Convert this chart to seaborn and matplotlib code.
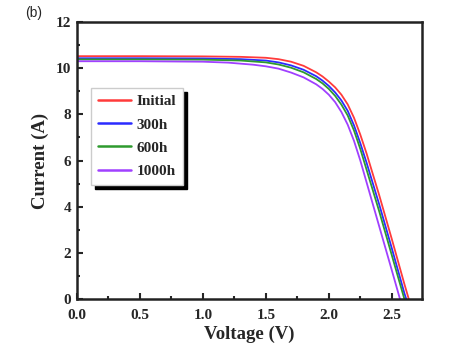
import numpy as np
import pandas as pd
import matplotlib
matplotlib.use('Agg')
import matplotlib.pyplot as plt
from matplotlib.ticker import MultipleLocator
import seaborn as sns

# I-V curves
labels = ['Initial', '300h', '600h', '1000h']
colors = ['#ff3b3b', '#2b2bff', '#2e9a2e', '#a040ff']

v_initial = [0, 0.5, 1.0, 1.3, 1.5, 1.6, 1.7, 1.8, 1.9, 1.95, 2.0, 2.05, 2.1, 2.15, 2.2, 2.25, 2.3, 2.4, 2.5, 2.6, 2.635]
i_initial = [10.52, 10.52, 10.51, 10.49, 10.45, 10.39, 10.28, 10.1, 9.82, 9.64, 9.42, 9.17, 8.85, 8.43, 7.85, 7.12, 6.3, 4.5, 2.6, 0.65, 0]

v_300h = [0, 0.5, 1.0, 1.3, 1.5, 1.6, 1.7, 1.8, 1.9, 1.95, 2.0, 2.05, 2.1, 2.15, 2.2, 2.25, 2.3, 2.4, 2.5, 2.6, 2.615]
i_300h = [10.43, 10.43, 10.42, 10.39, 10.33, 10.25, 10.12, 9.93, 9.65, 9.46, 9.23, 8.95, 8.6, 8.15, 7.52, 6.75, 5.9, 4.1, 2.2, 0.25, 0]

v_600h = [0, 0.5, 1.0, 1.3, 1.5, 1.6, 1.7, 1.8, 1.9, 1.95, 2.0, 2.05, 2.1, 2.15, 2.2, 2.25, 2.3, 2.4, 2.5, 2.6]
i_600h = [10.38, 10.38, 10.37, 10.33, 10.25, 10.16, 10.02, 9.82, 9.53, 9.34, 9.1, 8.8, 8.42, 7.95, 7.3, 6.5, 5.6, 3.8, 1.9, 0]

v_1000h = [0, 0.5, 1.0, 1.2, 1.4, 1.5, 1.6, 1.7, 1.8, 1.9, 1.95, 2.0, 2.05, 2.1, 2.15, 2.2, 2.25, 2.3, 2.4, 2.5, 2.565]
i_1000h = [10.30, 10.30, 10.28, 10.24, 10.15, 10.08, 9.98, 9.81, 9.6, 9.3, 9.1, 8.85, 8.53, 8.1, 7.55, 6.85, 6.0, 5.05, 3.15, 1.25, 0]

frames = []
for lab, v, i in zip(labels, [v_initial, v_300h, v_600h, v_1000h],
                     [i_initial, i_300h, i_600h, i_1000h]):
    frames.append(pd.DataFrame({'Voltage': v, 'Current': i, 'Sample': lab}))
df = pd.concat(frames, ignore_index=True)

sns.set_style('ticks')
plt.rcParams['font.family'] = ['Liberation Serif', 'DejaVu Serif']
plt.rcParams['font.weight'] = 'bold'

fig = plt.figure(figsize=(4.77, 3.57), dpi=100)
ax = fig.add_axes([77 / 477, 1 - 299 / 357, 345 / 477, 277 / 357])

sns.lineplot(data=df, x='Voltage', y='Current', hue='Sample', hue_order=labels,
             palette=colors, estimator=None, sort=False, linewidth=1.3, ax=ax)

ax.set_xlim(0, 2.74)
ax.set_ylim(0, 12)
ax.xaxis.set_major_locator(MultipleLocator(0.5))
ax.xaxis.set_minor_locator(MultipleLocator(0.25))
ax.yaxis.set_major_locator(MultipleLocator(2))
ax.yaxis.set_minor_locator(MultipleLocator(1))
ax.tick_params(which='both', direction='in', width=1.5, labelsize=11)
ax.tick_params(which='major', length=4)
ax.tick_params(which='minor', length=2.5)
ax.tick_params(axis='x', pad=7)
ax.tick_params(axis='y', pad=4)
for lbl in ax.get_xticklabels() + ax.get_yticklabels():
    lbl.set_fontweight('bold')
for s in ax.spines.values():
    s.set_linewidth(1.8)
    s.set_color('#222222')

ax.set_xlabel('Voltage (V)', fontsize=13.5, fontweight='bold', labelpad=3)
ax.set_ylabel('Current (A)', fontsize=13.5, fontweight='bold', labelpad=5)

leg = ax.legend(loc='upper left', bbox_to_anchor=(0.04, 0.762), borderaxespad=0,
                fancybox=False, frameon=True, edgecolor='#cccccc',
                shadow={'color': 'black', 'alpha': 1, 'ox': 3, 'oy': -3},
                prop={'weight': 'bold', 'size': 11, 'family': 'Liberation Serif'},
                handlelength=2.2, handletextpad=0.35, labelspacing=0.62,
                borderpad=0.45, title=None)
for line in leg.get_lines():
    line.set_linewidth(1.8)

fig.text(25 / 477, 1 - 13 / 357, '(b)', fontsize=10, family='Liberation Sans',
         fontweight='normal', va='center')

fig.savefig('out.png', dpi=100)
